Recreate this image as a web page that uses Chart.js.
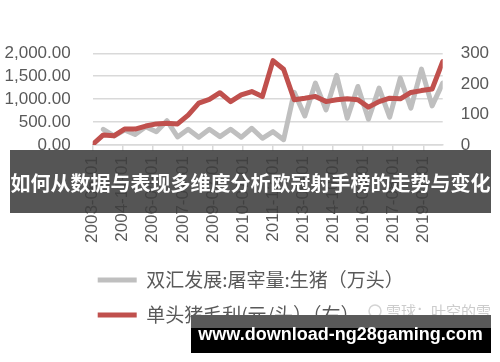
<!DOCTYPE html>
<html>
<head>
<meta charset="utf-8">
<script src="https://cdn.jsdelivr.net/npm/chart.js@4.4.1/dist/chart.umd.min.js"></script>
<style>
	html, body { margin: 0; padding: 0; background: #ffffff; }
	#box { width: 500px; height: 362px; }
</style>
</head>
<body>
<div id="box"><canvas id="chart"></canvas></div>
<script>
// ----------------------------------------------------------------------
//	half-year points, 2003-06 .. 2019-12
// ----------------------------------------------------------------------
const periods = [
	"2003-06", "2003-12", "2004-06", "2004-12", "2005-06", "2005-12",
	"2006-06", "2006-12", "2007-06", "2007-12", "2008-06", "2008-12",
	"2009-06", "2009-12", "2010-06", "2010-12", "2011-06", "2011-12",
	"2012-06", "2012-12", "2013-06", "2013-12", "2014-06", "2014-12",
	"2015-06", "2015-12", "2016-06", "2016-12", "2017-06", "2017-12",
	"2018-06", "2018-12", "2019-06", "2019-12"
	]

// 双汇发展:屠宰量:生猪（万头） - left axis
const slaughter = [
	null, 340, 197, 328, 230, 400, 291, 530, 175, 343, 168, 343,
	182, 343, 168, 365, 147, 291, 115, 1149, 635, 1350, 766, 1520,
	584, 1276, 562, 1240, 606, 1459, 803, 1656, 853, 1350
	]

// 单头猪毛利(元/头) - right axis
const margin = [
	2, 33, 30, 52, 52, 62, 69, 71, 69, 98, 137, 149,
	171, 142, 164, 175, 159, 276, 248, 148, 153, 159, 142, 148,
	151, 148, 124, 142, 153, 151, 172, 178, 183, 273
	]

const tick_labels = [
	"2003-06-01", "2004-11-01", "2006-04-01", "2007-09-01",
	"2009-02-01", "2010-07-01", "2011-12-01", "2013-05-01",
	"2014-10-01", "2016-03-01", "2017-08-01", "2019-01-01"
	]

const label_aa = "双汇发展:屠宰量:生猪（万头）"
const label_bb = "单头猪毛利(元/头）（右）"
const title_text = "如何从数据与表现多维度分析欧冠射手榜的走势与变化"
const site_text = "www.download-ng28gaming.com"
const mark_text = "雪球：叶空的雪"

// ----------------------------------------------------------------------
function month_index (str)
{
	const yy = parseInt(str.substr(0,4))
	const mm = parseInt(str.substr(5,2))
	return (yy - 2003) * 12 + (mm - 6)
}

// ----------------------------------------------------------------------
function to_points (values)
{
	var points = []
	for (var it = 0; it < periods.length; it += 1)
		{
		points.push({ x: month_index(periods[it]), y: values[it] })
		}
	return points
}

// ----------------------------------------------------------------------
const overlay = {
	id: 'overlay',
	afterLayout: function (chart)
		{
		// legend rows start under the plot, left aligned
		chart.legend.left = 97.7 - 16
		},
	afterDraw: function (chart)
		{
		const ctx = chart.ctx
		ctx.save()

		// faint watermark
		ctx.strokeStyle = '#d4d4d4'
		ctx.lineWidth = 1.5
		ctx.beginPath()
		ctx.arc(375, 311, 6, 0, Math.PI * 2)
		ctx.stroke()
		ctx.fillStyle = '#cccccc'
		ctx.font = '15px "Noto Sans CJK SC"'
		ctx.textBaseline = 'middle'
		ctx.textAlign = 'left'
		ctx.fillText(mark_text, 386, 311)

		// title banner
		ctx.fillStyle = 'rgba(62,62,62,0.88)'
		ctx.fillRect(10, 150, 481, 63)
		ctx.fillStyle = '#ffffff'
		ctx.font = 'bold 20px "Noto Sans CJK SC"'
		ctx.textAlign = 'center'
		ctx.textBaseline = 'middle'
		ctx.fillText(title_text, 250.5, 183)

		// site banner
		ctx.fillStyle = '#5a5a5a'
		ctx.fillRect(191, 315, 300, 13)
		ctx.fillStyle = '#000000'
		ctx.fillRect(191, 328, 300, 25)
		ctx.fillStyle = '#ffffff'
		ctx.font = 'bold 18px "Liberation Sans"'
		ctx.textBaseline = 'alphabetic'
		ctx.fillText(site_text, 340.5, 340)

		ctx.restore()
		}
	}

// ----------------------------------------------------------------------
function prog01 ()
{
	const tick_values = tick_labels.map(function (str) { return month_index(str) })

	const unit_aa = { label: label_aa, data: to_points(slaughter), yAxisID: 'y',
		borderColor: '#bfbfbf', backgroundColor: '#bfbfbf', borderWidth: 5,
		pointRadius: 0, tension: 0, order: 1,
		borderJoinStyle: 'round', borderCapStyle: 'round' }

	const unit_bb = { label: label_bb, data: to_points(margin), yAxisID: 'y1',
		borderColor: '#c0504d', backgroundColor: '#c0504d', borderWidth: 5,
		pointRadius: 0, tension: 0, order: 0,
		borderJoinStyle: 'round', borderCapStyle: 'round' }

	const font_num = { family: '"Liberation Sans"', size: 17 }

	const options = {
		responsive: true,
		maintainAspectRatio: false,
		animation: false,
		layout: { padding: { top: 53.3, bottom: 27.5, left: 0, right: 0 } },
		plugins: {
			tooltip: { enabled: false },
			legend: {
				position: 'bottom',
				align: 'start',
				labels: {
					boxWidth: 39,
					boxHeight: 5,
					padding: 16,
					color: '#595959',
					font: { family: '"Noto Sans CJK SC"', size: 19 },
					generateLabels: function (chart)
						{
						return chart.data.datasets.map(function (ds, ii)
							{
							return { text: ds.label, fillStyle: ds.borderColor,
								strokeStyle: ds.borderColor, lineWidth: 0,
								hidden: false, datasetIndex: ii, fontColor: '#595959' }
							})
						}
					}
				}
			},
		scales: {
			x: {
				type: 'linear',
				min: 0,
				max: month_index(periods[periods.length - 1]),
				afterBuildTicks: function (scale)
					{
					scale.ticks = tick_values.map(function (vv) { return { value: vv } })
					},
				afterFit: function (scale) { scale.height = 109.5 },
				ticks: {
					autoSkip: false,
					minRotation: 90,
					maxRotation: 90,
					padding: 5,
					color: '#595959',
					font: font_num,
					callback: function (value)
						{
						const kk = tick_values.indexOf(value)
						return kk < 0 ? '' : tick_labels[kk]
						}
					},
				grid: { drawOnChartArea: false, drawTicks: true, tickLength: 6,
					color: '#d9d9d9', lineWidth: 1.5 },
				border: { display: true, color: '#d9d9d9', width: 1.5 }
				},
			y: {
				position: 'left',
				min: 0,
				max: 2000,
				afterFit: function (scale) { scale.width = 92.7 },
				ticks: {
					stepSize: 500,
					autoSkip: false,
					padding: 22,
					color: '#595959',
					font: font_num,
					callback: function (value)
						{
						return value.toLocaleString('en-US',
							{ minimumFractionDigits: 2, maximumFractionDigits: 2 })
						}
					},
				grid: { color: '#d9d9d9', lineWidth: 1.5, drawTicks: false },
				border: { display: false }
				},
			y1: {
				position: 'right',
				min: 0,
				max: 300,
				afterFit: function (scale) { scale.width = 500 - 442.7 },
				ticks: { stepSize: 100, autoSkip: false, padding: 18, color: '#595959', font: font_num },
				grid: { drawOnChartArea: false, drawTicks: false },
				border: { display: false }
				}
			}
		}

	const config = {
		type: 'line',
		data: { datasets: [unit_aa, unit_bb] },
		options: options,
		plugins: [overlay]
		}

	const context = document.getElementById("chart")
	const chart = new Chart(context, config)
}

// ----------------------------------------------------------------------
prog01 ()
</script>
</body>
</html>
